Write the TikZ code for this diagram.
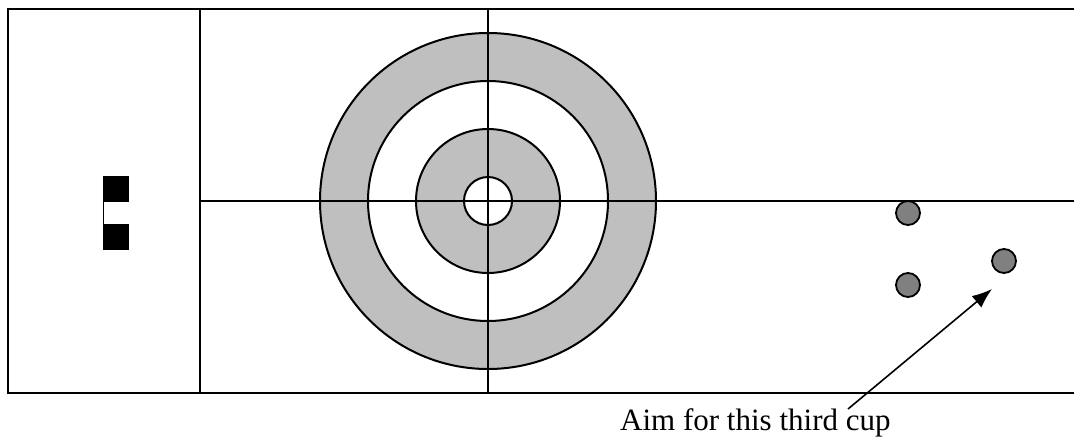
\documentclass[tikz,border=0pt]{standalone}
\usepackage{fontspec}
\setmainfont{Liberation Serif}
\usetikzlibrary{arrows.meta}
\begin{document}
\begin{tikzpicture}[x=1pt,y=-1pt,
  ln/.style={line width=2pt,black},
  ring/.style={line width=2pt,draw=black},
  cup/.style={circle,draw=black,line width=1.8pt,fill=black!50,minimum size=24pt,inner sep=0pt}]
\useasboundingbox (0,0) rectangle (1074,437);
% sheet outline
\draw[ln] (1074,9) -- (8,9) -- (8,393) -- (1074,393);
\draw[ln] (200,9) -- (200,393);
% house rings
\filldraw[ring,fill=black!25] (488,201) circle (168);
\filldraw[ring,fill=white] (488,201) circle (120);
\filldraw[ring,fill=black!25] (488,201) circle (72);
\filldraw[ring,fill=white] (488,201) circle (24);
% centre lines
\draw[ln] (488,9) -- (488,393);
\draw[ln] (200,201) -- (1074,201);
% hack
\fill[black] (103,176) rectangle (129,202);
\fill[black] (103,224) rectangle (129,250);
\draw[line width=1pt] (103.5,202) -- (103.5,224);
% cups
\node[cup] (c1) at (908,213) {};
\node[cup] (c2) at (908,285) {};
\node[cup] (c3) at (1004,261) {};
% label and arrow
\node[font=\fontsize{31}{36}\selectfont,anchor=base west,inner sep=0pt] (lbl) at (620,430) {Aim for this third cup};
\coordinate (s) at (848,409);
\coordinate (t) at (992,289);
\draw[line width=1.6pt,-{Latex[length=20pt,width=15pt]}] (s) -- (t);
\end{tikzpicture}
\end{document}
